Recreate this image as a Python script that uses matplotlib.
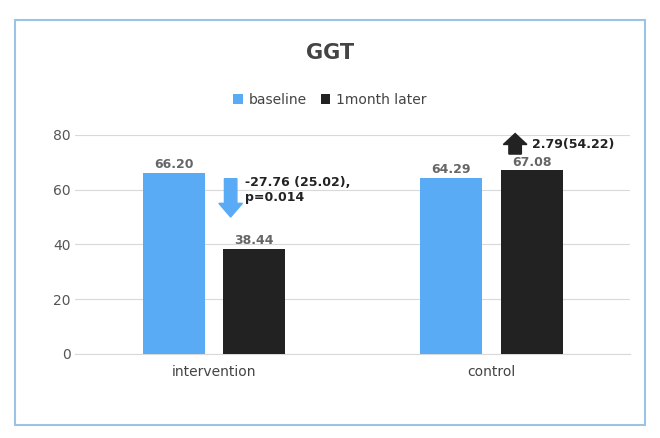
import matplotlib
matplotlib.use("Agg")
import matplotlib.pyplot as plt
from matplotlib.patches import Rectangle, FancyArrow

categories = ["intervention", "control"]
baseline = [66.20, 64.29]
later = [38.44, 67.08]
series_names = ["baseline", "1month later"]
changes = ["-27.76 (25.02),\np=0.014", "2.79(54.22)"]

fig = plt.figure(figsize=(6.6, 4.38), dpi=100)
fig.patches.append(Rectangle((0.022, 0.03), 0.955, 0.925, transform=fig.transFigure,
                             fill=False, edgecolor="#9cc3e6", lw=1.5))
ax = fig.add_axes([0.114, 0.192, 0.841, 0.5])
blue, black = "#5aabf5", "#222222"
w, off = 0.224, 0.145
x = range(len(categories))
b1 = ax.bar([i - off for i in x], baseline, w, color=blue, label=series_names[0], zorder=3)
b2 = ax.bar([i + off for i in x], later, w, color=black, label=series_names[1], zorder=3)
for bars, vals in ((b1, baseline), (b2, later)):
    for r, v in zip(bars, vals):
        ax.text(r.get_x() + r.get_width() / 2, v + 0.6, f"{v:.2f}", ha="center", va="bottom",
                fontsize=9, fontweight="bold", color="#666666")
ax.set_xlim(-0.5, 1.5)
ax.set_ylim(0, 80)
ax.set_yticks(range(0, 81, 20))
ax.set_xticks(list(x))
ax.set_xticklabels(categories, fontsize=10, color="#444444")
ax.tick_params(axis="y", labelsize=10, colors="#555555", length=0)
ax.tick_params(axis="x", length=0, pad=8)
ax.grid(axis="y", color="#d9d9d9", lw=0.8, zorder=0)
for s in ["top", "right", "left"]:
    ax.spines[s].set_visible(False)
ax.spines["bottom"].set_color("#d9d9d9")

# arrows
ax.add_patch(FancyArrow(0.06, 64, 0, -14, width=0.045, head_width=0.085, head_length=5,
                        length_includes_head=True, color=blue, zorder=4))
ax.text(0.11, 60, changes[0], fontsize=9, fontweight="bold", color="#222222", va="center")
ax.add_patch(FancyArrow(1.085, 73, 0, 7.5, width=0.045, head_width=0.085, head_length=4,
                        length_includes_head=True, color=black, zorder=4, clip_on=False))
ax.text(1.145, 76.5, changes[1], fontsize=9, fontweight="bold", color="#222222", va="center")

fig.text(0.5, 0.88, "GGT", ha="center", va="center", fontsize=15, fontweight="bold", color="#444444")
fig.legend(loc="center", bbox_to_anchor=(0.5, 0.772), ncol=2, frameon=False, fontsize=10,
           handlelength=0.7, handleheight=0.7, columnspacing=1.0, handletextpad=0.4,
           labelcolor="#444444")
fig.savefig("out.png", dpi=100)
